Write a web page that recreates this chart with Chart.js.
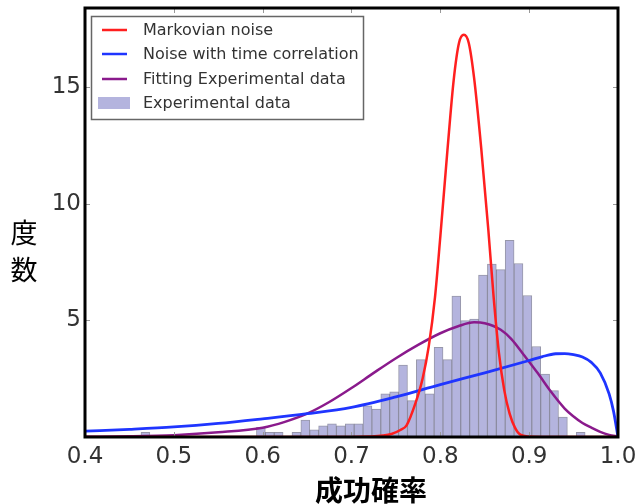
<!DOCTYPE html>
<html><head><meta charset="utf-8">
<script src="https://cdn.jsdelivr.net/npm/chart.js@4/dist/chart.umd.min.js"></script>
<style>html,body{margin:0;padding:0;background:#fff}canvas{display:block}</style>
</head><body>
<canvas id="c" width="636" height="504"></canvas>
<script>
// ---- data ----
const seriesLabels = ['Markovian noise','Noise with time correlation','Fitting Experimental data','Experimental data'];
const xTickValues = [0.4,0.5,0.6,0.7,0.8,0.9,1.0];
const yTickValues = [5,10,15];
const xAxisTitle = '成功確率';
const yAxisTitle = ['度','数'];

const binCenters = [0.468,0.478,0.488,0.498,0.508,0.518,0.528,0.538,0.548,0.558,
                    0.568,0.578,0.588,0.598,0.608,0.618,0.628,0.638,0.648,0.658,
                    0.668,0.678,0.688,0.698,0.708,0.718,0.728,0.738,0.748,0.758,
                    0.768,0.778,0.788,0.798,0.808,0.818,0.828,0.838,0.848,0.858,
                    0.868,0.878,0.888,0.898,0.908,0.918,0.928,0.938,0.948,0.958];
const binHeights = [0.2,0,0,0,0,0,0,0,0,0,
                    0,0,0,0.42,0.2,0.2,0,0.2,0.73,0.31,
                    0.48,0.56,0.48,0.56,0.56,1.34,1.2,1.85,1.94,3.09,
                    1.56,3.32,1.85,3.85,3.32,6.04,4.99,5.06,6.95,7.42,
                    7.18,8.43,7.44,6.07,3.88,2.70,1.99,0.85,0,0.2];

const markovX = [0.40,0.70,0.72,0.735,0.745,0.755,0.762,0.772,0.78,0.787,0.794,0.80,0.808,0.815,0.821,0.8265,0.832,0.838,0.846,0.854,0.86,0.866,0.872,0.878,0.884,0.89,0.90,0.92,1.0];
const markovY = [0,0,0.02,0.06,0.13,0.3,0.5,1.45,2.5,3.9,6.0,8.6,12.3,15.3,16.9,17.25,16.9,15.4,12.4,8.9,6.0,3.6,2.0,1.0,0.4,0.1,0.02,0,0];

const corrX = [0.40,0.45,0.50,0.55,0.60,0.65,0.70,0.75,0.80,0.85,0.90,0.915,0.93,0.94,0.95,0.96,0.97,0.98,0.99,0.995,1.0];
const corrY = [0.25,0.33,0.43,0.58,0.78,1.0,1.27,1.72,2.25,2.75,3.28,3.45,3.57,3.58,3.53,3.43,3.2,2.75,1.85,1.1,0];

const fitX = [0.40,0.45,0.50,0.55,0.60,0.625,0.65,0.675,0.70,0.725,0.75,0.775,0.80,0.82,0.838,0.85,0.868,0.88,0.894,0.91,0.924,0.94,0.95,0.96,0.97,0.98,0.99,1.0];
const fitY = [0.01,0.03,0.08,0.2,0.4,0.65,1.0,1.5,2.1,2.75,3.38,3.95,4.45,4.75,4.92,4.88,4.6,4.2,3.52,2.72,1.97,1.22,0.88,0.6,0.4,0.22,0.09,0.02];

// ---- build ----
const pts = (xs, ys) => xs.map((x, i) => ({x: x, y: ys[i]}));
const colors = {red:'#ff1f1f', blue:'#1f35ff', purple:'#8a1a8c', barFill:'rgb(180,180,222)', barEdge:'rgba(95,95,125,0.65)'};

const bgPlugin = {
  id:'bg',
  beforeDraw(chart){ const c = chart.ctx; c.save(); c.fillStyle='#fff'; c.fillRect(0,0,chart.width,chart.height); c.restore(); }
};

const framePlugin = {
  id:'frame',
  afterDraw(chart){
    const c = chart.ctx, a = chart.chartArea, xs = chart.scales.x, ys = chart.scales.y;
    c.save();
    c.strokeStyle = '#999'; c.lineWidth = 1;
    xTickValues.forEach(v => {
      const px = Math.round(xs.getPixelForValue(v)) + 0.5;
      c.beginPath(); c.moveTo(px, a.bottom); c.lineTo(px, a.bottom - 5); c.stroke();
      c.beginPath(); c.moveTo(px, a.top); c.lineTo(px, a.top + 5); c.stroke();
    });
    yTickValues.forEach(v => {
      const py = Math.round(ys.getPixelForValue(v)) + 0.5;
      c.beginPath(); c.moveTo(a.left, py); c.lineTo(a.left + 5, py); c.stroke();
      c.beginPath(); c.moveTo(a.right, py); c.lineTo(a.right - 5, py); c.stroke();
    });
    c.strokeStyle = '#000'; c.lineWidth = 3;
    c.strokeRect(a.left, a.top, a.right - a.left, a.bottom - a.top);

    // legend box
    const lx = 91.5, ly = 16.5, lw = 272, lh = 103;
    c.fillStyle = '#fff'; c.fillRect(lx, ly, lw, lh);
    c.strokeStyle = '#666'; c.lineWidth = 1.5; c.strokeRect(lx, ly, lw, lh);
    const rows = [30, 54, 79, 103];
    const ds = chart.data.datasets;
    c.font = '16px "DejaVu Sans"'; c.textBaseline = 'middle'; c.textAlign = 'left';
    ds.forEach((d, i) => {
      const y = rows[i];
      if (d.type === 'bar') {
        c.fillStyle = d.backgroundColor; c.fillRect(98, y - 6, 32, 12);
      } else {
        c.strokeStyle = d.borderColor; c.lineWidth = 2.5;
        c.beginPath(); c.moveTo(102, y); c.lineTo(127, y); c.stroke();
      }
      c.fillStyle = '#333';
      c.fillText(d.label, 143, y + 1);
    });

    // axis titles
    c.fillStyle = '#000';
    c.textAlign = 'center'; c.textBaseline = 'middle';
    c.font = 'bold 28px "Noto Sans CJK JP"';
    c.fillText(xAxisTitle, 371, 490);
    c.font = '27px "Noto Sans CJK JP"';
    c.fillText(yAxisTitle[0], 24, 233);
    c.fillText(yAxisTitle[1], 24, 270);
    c.restore();
  }
};

new Chart(document.getElementById('c'), {
  type: 'line',
  data: {
    datasets: [
      {type:'line', label: seriesLabels[0], data: pts(markovX, markovY), borderColor: colors.red, borderWidth: 2.5, pointRadius: 0, cubicInterpolationMode: 'monotone', fill: false, order: 0},
      {type:'line', label: seriesLabels[1], data: pts(corrX, corrY), borderColor: colors.blue, borderWidth: 2.8, pointRadius: 0, cubicInterpolationMode: 'monotone', fill: false, order: 0},
      {type:'line', label: seriesLabels[2], data: pts(fitX, fitY), borderColor: colors.purple, borderWidth: 2.5, pointRadius: 0, cubicInterpolationMode: 'monotone', fill: false, order: 0},
      {type:'bar', label: seriesLabels[3], data: pts(binCenters, binHeights), backgroundColor: colors.barFill, borderColor: colors.barEdge, borderWidth: 1, borderSkipped: false, barPercentage: 1, categoryPercentage: 1, order: 1}
    ]
  },
  options: {
    responsive: false, animation: false, devicePixelRatio: 1,
    layout: {padding: {top: 8, right: 18, bottom: 0, left: 0}},
    plugins: {legend: {display: false}, tooltip: {enabled: false}},
    scales: {
      x: {
        type: 'linear', min: 0.4, max: 1.0, offset: false,
        grid: {display: false, drawTicks: false}, border: {display: false},
        ticks: {padding: 6, color: '#333', font: {family: 'DejaVu Sans', size: 23}, maxRotation: 0, autoSkip: false,
                callback: v => Number(v).toFixed(1)},
        afterBuildTicks: s => { s.ticks = xTickValues.map(v => ({value: v})); },
        afterFit: s => { s.height = 67; s.paddingLeft = 0; s.paddingRight = 0; }
      },
      y: {
        type: 'linear', min: 0, max: 18.4,
        grid: {display: false, drawTicks: false}, border: {display: false},
        ticks: {padding: 4, color: '#333', font: {family: 'DejaVu Sans', size: 23}, autoSkip: false,
                callback: v => String(v)},
        afterBuildTicks: s => { s.ticks = yTickValues.map(v => ({value: v})); },
        afterFit: s => { s.width = 85; s.paddingTop = 0; s.paddingBottom = 0; }
      }
    }
  },
  plugins: [bgPlugin, framePlugin]
});
</script>
</body></html>
